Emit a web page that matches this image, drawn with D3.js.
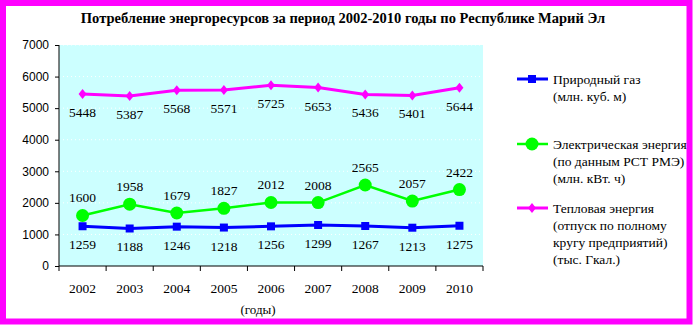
<!DOCTYPE html>
<html><head><meta charset="utf-8">
<script src="https://cdn.jsdelivr.net/npm/d3@7"></script>
<style>body{margin:0;background:#fff}svg{display:block}
.serif{font-family:"Liberation Serif","Times New Roman","DejaVu Serif",serif}
.sans{font-family:"Liberation Sans",Arial,"DejaVu Sans",sans-serif}</style>
</head><body>
<script>
const years = ["2002","2003","2004","2005","2006","2007","2008","2009","2010"];
const gas = [1259,1188,1246,1218,1256,1299,1267,1213,1275];
const electric = [1600,1958,1679,1827,2012,2008,2565,2057,2422];
const heat = [5448,5387,5568,5571,5725,5653,5436,5401,5644];
const yTicks = [0,1000,2000,3000,4000,5000,6000,7000];
const title = "Потребление энергоресурсов за период 2002-2010 годы по Республике Марий Эл";
const xTitle = "(годы)";
const legendGas = ["Природный газ","(млн. куб. м)"];
const legendEl = ["Электрическая энергия","(по данным РСТ РМЭ)","(млн. кВт. ч)"];
const legendHeat = ["Тепловая энергия","(отпуск по полному","кругу предприятий)","(тыс. Гкал.)"];

const W=693,H=325;
const svg=d3.select("body").append("svg").attr("width",W).attr("height",H);
svg.append("rect").attr("x",3).attr("y",3).attr("width",W-6.5).attr("height",H-6.5)
  .attr("fill","#fff").attr("stroke","#FF00FF").attr("stroke-width",6);

const L=59,R=483,T=45,B=266;
const x=d3.scaleBand().domain(years).range([L,R]);
const y=d3.scaleLinear().domain([0,7000]).range([B,T]);

svg.append("rect").attr("x",L).attr("y",T).attr("width",R-L).attr("height",B-T).attr("fill","#CCFFFF");
svg.append("g").selectAll("line").data(yTicks.slice(1)).join("line")
  .attr("x1",L).attr("x2",R).attr("y1",d=>y(d)).attr("y2",d=>y(d))
  .attr("stroke","#fff").attr("stroke-dasharray","1,3").attr("stroke-width",1);

svg.append("text").attr("class","serif").attr("x",343).attr("y",23).attr("text-anchor","middle")
  .attr("font-weight","bold").attr("font-size",14.5).text(title);

const ya=svg.append("g").attr("transform",`translate(${L},0)`)
  .call(d3.axisLeft(y).tickValues(yTicks).tickSize(4).tickFormat(d3.format("d")));
ya.select(".domain").attr("stroke","#000").attr("d",`M0,${T}V${B}`);
ya.selectAll("text").attr("class","sans").attr("font-size",12).attr("fill","#000").attr("dx",-3);

const xa=svg.append("g").attr("transform",`translate(0,${B})`)
  .call(d3.axisBottom(x).tickSize(0).tickPadding(17));
xa.select(".domain").attr("stroke","#000").attr("d",`M${L},0H${R}`);
xa.selectAll("text").attr("class","serif").attr("font-size",13.5).attr("fill","#000");
svg.append("g").selectAll("line").data(years.concat(["end"])).join("line")
  .attr("x1",(d,i)=>L+i*x.bandwidth()).attr("x2",(d,i)=>L+i*x.bandwidth())
  .attr("y1",B).attr("y2",B+5).attr("stroke","#000");

svg.append("text").attr("class","serif").attr("x",258).attr("y",314).attr("text-anchor","middle")
  .attr("font-size",13).text(xTitle);

const cx=d=>x(d)+x.bandwidth()/2;
const line=d3.line().x((d,i)=>cx(years[i])).y(d=>y(d));

function series(data,color,width,marker,labelDy){
  svg.append("path").datum(data).attr("d",line).attr("fill","none").attr("stroke",color).attr("stroke-width",width);
  const g=svg.append("g");
  data.forEach((v,i)=>marker(g,cx(years[i]),y(v)));
  svg.append("g").selectAll("text").data(data).join("text").attr("class","serif")
    .attr("x",(d,i)=>cx(years[i])).attr("y",d=>y(d)+labelDy).attr("text-anchor","middle")
    .attr("font-size",13.5).text(d=>d);
}
const sq=c=>(g,px,py)=>g.append("rect").attr("x",px-4).attr("y",py-4).attr("width",8).attr("height",8).attr("fill",c);
const ci=c=>(g,px,py)=>g.append("circle").attr("cx",px).attr("cy",py).attr("r",6.5).attr("fill",c);
const di=c=>(g,px,py)=>g.append("path").attr("d",`M${px},${py-5}L${px+4},${py}L${px},${py+5}L${px-4},${py}Z`).attr("fill",c);

series(heat,"#FF00FF",3,di("#FF00FF"),23);
series(electric,"#00FF00",2.5,ci("#00FF00"),-13);
series(gas,"#0000FF",3,sq("#0000FF"),23);

function legend(ly,lines,color,width,marker){
  svg.append("line").attr("x1",517).attr("x2",548).attr("y1",ly).attr("y2",ly).attr("stroke",color).attr("stroke-width",width);
  marker(svg,532,ly);
  svg.append("g").selectAll("text").data(lines).join("text").attr("class","serif")
    .attr("x",553).attr("y",(d,i)=>ly+5+i*17).attr("font-size",13.5).text(d=>d);
}
legend(79,legendGas,"#0000FF",3,sq("#0000FF"));
legend(144,legendEl,"#00FF00",2.5,ci("#00FF00"));
legend(208,legendHeat,"#FF00FF",3,di("#FF00FF"));
</script>
</body></html>
